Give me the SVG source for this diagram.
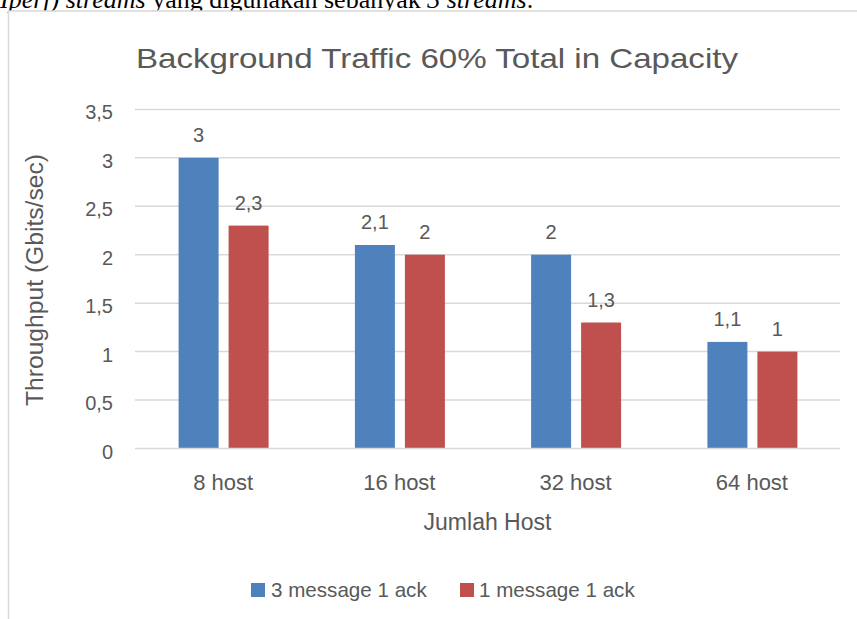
<svg xmlns="http://www.w3.org/2000/svg" width="857" height="619" viewBox="0 0 857 619">
<style>
.t{font-family:"Liberation Sans",Arial,sans-serif;fill:#595959}
.tick{font-size:20px;text-anchor:end}
.dl{font-size:20px;text-anchor:middle}
.cat{font-size:22px;text-anchor:middle}
.grid{stroke:#d9d9d9;stroke-width:1.5}
.b{fill:#4f81bd}
.r{fill:#c0504d}
</style>
<rect width="857" height="619" fill="#ffffff"/>
<text x="0" y="7.5" font-family="'Liberation Serif','Times New Roman',serif" font-size="26" fill="#000"><tspan font-style="italic">Iperf) streams</tspan> yang digunakan sebanyak <tspan font-style="italic">3 streams</tspan>.</text>
<rect id="chart-frame" x="8.5" y="11" width="900" height="700" fill="#fff" stroke="#d9d9d9" stroke-width="1.5"/>
<text id="title" class="t" x="437" y="68" font-size="28.5" text-anchor="middle" textLength="602" lengthAdjust="spacingAndGlyphs">Background Traffic 60% Total in Capacity</text>
<g id="gridlines">
<line class="grid" x1="135" y1="109.4" x2="840" y2="109.4"/>
<line class="grid" x1="135" y1="157.8" x2="840" y2="157.8"/>
<line class="grid" x1="135" y1="206.3" x2="840" y2="206.3"/>
<line class="grid" x1="135" y1="254.7" x2="840" y2="254.7"/>
<line class="grid" x1="135" y1="303.2" x2="840" y2="303.2"/>
<line class="grid" x1="135" y1="351.6" x2="840" y2="351.6"/>
<line class="grid" x1="135" y1="400.1" x2="840" y2="400.1"/>
</g>
<g id="y-axis">
<text class="t tick" x="113" y="119.4">3,5</text>
<text class="t tick" x="113" y="167.8">3</text>
<text class="t tick" x="113" y="216.3">2,5</text>
<text class="t tick" x="113" y="264.7">2</text>
<text class="t tick" x="113" y="313.2">1,5</text>
<text class="t tick" x="113" y="361.6">1</text>
<text class="t tick" x="113" y="410.1">0,5</text>
<text class="t tick" x="113" y="458.5">0</text>
<text class="t" transform="translate(43,280) rotate(-90)" font-size="23" text-anchor="middle" textLength="252" lengthAdjust="spacingAndGlyphs">Throughput (Gbits/sec)</text>
</g>
<g id="series-3msg">
<rect class="b" x="178.6" y="157.8" width="40" height="290.7"/>
<rect class="b" x="354.9" y="245.0" width="40" height="203.5"/>
<rect class="b" x="531.1" y="254.7" width="40" height="193.8"/>
<rect class="b" x="707.4" y="341.9" width="40" height="106.6"/>
<text class="t dl" x="198.6" y="141.8">3</text>
<text class="t dl" x="374.9" y="229">2,1</text>
<text class="t dl" x="551.1" y="238.7">2</text>
<text class="t dl" x="727.4" y="325.9">1,1</text>
</g>
<g id="series-1msg">
<rect class="r" x="228.6" y="225.6" width="40" height="222.9"/>
<rect class="r" x="404.9" y="254.7" width="40" height="193.8"/>
<rect class="r" x="581.1" y="322.5" width="40" height="126"/>
<rect class="r" x="757.4" y="351.6" width="40" height="96.9"/>
<text class="t dl" x="248.6" y="209.6">2,3</text>
<text class="t dl" x="424.9" y="238.7">2</text>
<text class="t dl" x="601.1" y="306.5">1,3</text>
<text class="t dl" x="777.4" y="335.6">1</text>
</g>
<g id="x-axis">
<line class="grid" x1="135" y1="448.5" x2="840" y2="448.5"/>
<text class="t cat" x="223.1" y="490">8 host</text>
<text class="t cat" x="399.4" y="490">16 host</text>
<text class="t cat" x="575.6" y="490">32 host</text>
<text class="t cat" x="751.9" y="490">64 host</text>
<text class="t" x="487.5" y="530" font-size="23" text-anchor="middle">Jumlah Host</text>
</g>
<g id="legend">
<rect class="b" x="251" y="583" width="14" height="14"/>
<text class="t" x="271" y="597" font-size="20.6">3 message 1 ack</text>
<rect class="r" x="460" y="583" width="14" height="14"/>
<text class="t" x="479" y="597" font-size="20.6">1 message 1 ack</text>
</g>
</svg>
